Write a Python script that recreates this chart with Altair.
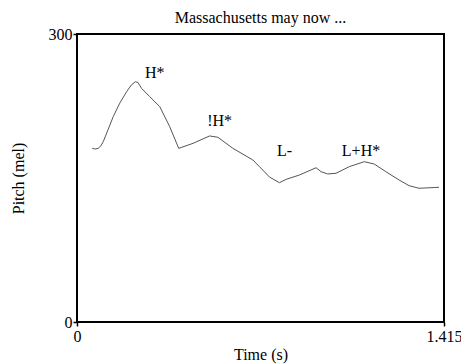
import altair as alt
import pandas as pd

# Pitch contour (time in s, pitch in mel)
time_s = [0.0588, 0.0700, 0.0819, 0.0920, 0.1011, 0.1200, 0.1396, 0.1650, 0.1911,
          0.2100, 0.2250, 0.2350, 0.2488, 0.2807, 0.3192, 0.3576, 0.3922, 0.4472,
          0.5114, 0.5433, 0.6010, 0.6779, 0.7037, 0.7421, 0.7806, 0.8063, 0.8575,
          0.9217, 0.9409, 0.9663, 0.9986, 1.0497, 1.1074, 1.1458, 1.1908, 1.2420,
          1.2804, 1.3189, 1.3958]
pitch_mel = [180.9, 180.2, 180.9, 183.5, 187.8, 200.5, 213.9, 228.0, 239.9,
             247.0, 250.3, 249.5, 243.4, 234.7, 224.3, 203.4, 180.9, 186.1,
             193.8, 192.4, 180.9, 168.8, 161.8, 151.0, 145.1, 148.6, 153.1,
             160.7, 156.6, 154.2, 154.9, 161.8, 167.0, 164.6, 156.6, 147.9,
             142.0, 139.3, 140.3]

# Tone annotations
label_text = ["H*", "!H*", "L-", "L+H*"]
label_time = [0.300, 0.550, 0.800, 1.095]
label_mel = [259.0, 209.0, 178.0, 178.0]

x_ticks = [0, 1.415]
y_ticks = [0, 300]

FONT = "Liberation Serif"

curve = pd.DataFrame({"time": time_s, "pitch": pitch_mel})
labels = pd.DataFrame({"label": label_text, "time": label_time, "pitch": label_mel})

x_enc = alt.X(
    "time:Q",
    scale=alt.Scale(domain=[0, 1.415], nice=False, zero=False),
    axis=alt.Axis(values=x_ticks, labelExpr="format(datum.value, '.4~g')",
                  title="Time (s)", grid=False,
                  domain=False, ticks=True, tickSize=4, tickColor="black", tickWidth=1.5,
                  labelFont=FONT, labelFontSize=16, labelColor="black",
                  labelPadding=2, labelFlush=False,
                  titleFont=FONT, titleFontSize=16, titleFontWeight="normal",
                  titleColor="black", titleY=37, titleBaseline="alphabetic"),
)
y_enc = alt.Y(
    "pitch:Q",
    scale=alt.Scale(domain=[0, 300], nice=False),
    axis=alt.Axis(values=y_ticks, title="Pitch (mel)", grid=False,
                  domain=False, ticks=True, tickSize=4, tickColor="black", tickWidth=1.5,
                  labelFont=FONT, labelFontSize=16, labelColor="black",
                  labelPadding=1, labelFlush=False,
                  titleFont=FONT, titleFontSize=16, titleFontWeight="normal",
                  titleColor="black", titlePadding=22),
)

line = alt.Chart(curve).mark_line(color="#555555", strokeWidth=1).encode(
    x=x_enc, y=y_enc, order=alt.Order("time:Q")
)

text = alt.Chart(labels).mark_text(
    font=FONT, fontSize=16, color="black", align="center", baseline="middle"
).encode(x="time:Q", y="pitch:Q", text="label:N")

chart = (
    alt.layer(line, text)
    .properties(
        width=367,
        height=288,
        autosize=alt.AutoSizeParams(type="none"),
        padding={"left": 77, "top": 34, "right": 17, "bottom": 42},
        title=alt.TitleParams(
            "Massachusetts may now ...", font=FONT, fontSize=16,
            fontWeight="normal", color="black", offset=0, anchor="middle",
        ),
        background="white",
    )
    .configure_view(stroke="black", strokeWidth=2)
)

chart.save("out.html", embed_options={"renderer": "svg", "actions": False})
